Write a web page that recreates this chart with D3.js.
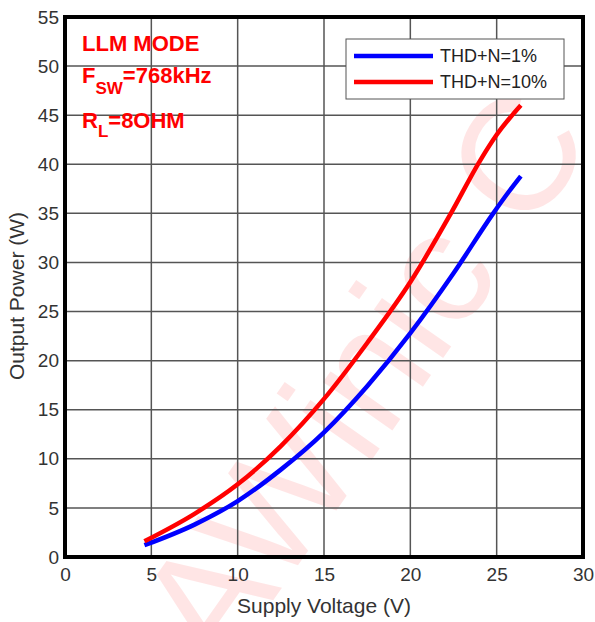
<!DOCTYPE html>
<html><head><meta charset="utf-8">
<script src="https://cdn.jsdelivr.net/npm/d3@7"></script>
<style>body{margin:0;background:#fff}svg{display:block;font-family:"Liberation Sans",Arial,sans-serif}</style>
</head><body>
<svg id="c" width="595" height="622"></svg>
<script>
const xTicks = [0,5,10,15,20,25,30];
const yTicks = [0,5,10,15,20,25,30,35,40,45,50,55];
const redV = [4.6, 7.5, 10, 12.5, 15, 17.5, 20, 22.35, 24.05, 25, 26.4];
const redP = [1.6, 4.4, 7.4, 11.3, 16.1, 21.8, 28.0, 35.0, 40.4, 43.0, 46.0];
const blueV = [4.6, 7.5, 10, 12.5, 15, 17.5, 20, 22.5, 24.8, 25.7, 26.4];
const blueP = [1.2, 3.3, 5.7, 8.9, 12.7, 17.4, 22.8, 28.9, 35.0, 37.2, 38.8];
const seriesNames = ["THD+N=1%", "THD+N=10%"];

const svg = d3.select("#c");
const x = d3.scaleLinear().domain([0,30]).range([65,583]);
const y = d3.scaleLinear().domain([0,55]).range([557,17]);

// watermark
svg.append("text").attr("transform","translate(595,141) rotate(-55)")
  .attr("text-anchor","end")
  .attr("font-size",160).attr("font-family","Liberation Sans, Arial, sans-serif")
  .attr("fill","rgba(255,0,0,0.10)").text("AWinic C");

// grid
svg.append("g").selectAll("line").data(xTicks.slice(1,-1)).join("line")
  .attr("x1",d=>x(d)).attr("x2",d=>x(d)).attr("y1",y(55)).attr("y2",y(0))
  .attr("stroke","#555").attr("stroke-width",1.5);
svg.append("g").selectAll("line").data(yTicks.slice(1,-1)).join("line")
  .attr("y1",d=>y(d)).attr("y2",d=>y(d)).attr("x1",x(0)).attr("x2",x(30))
  .attr("stroke","#555").attr("stroke-width",1.5);

// lines
const line = d3.line().x(d=>x(d[0])).y(d=>y(d[1])).curve(d3.curveMonotoneX);
svg.append("path").datum(blueV.map((v,i)=>[v,blueP[i]])).attr("d",line)
  .attr("fill","none").attr("stroke","#0000ff").attr("stroke-width",4.5);
svg.append("path").datum(redV.map((v,i)=>[v,redP[i]])).attr("d",line)
  .attr("fill","none").attr("stroke","#ff0000").attr("stroke-width",4.5);

// frame
svg.append("rect").attr("x",x(0)).attr("y",y(55)).attr("width",x(30)-x(0)).attr("height",y(0)-y(55))
  .attr("fill","none").attr("stroke","#000").attr("stroke-width",4);

// axes labels via d3 axes
const xAxis = svg.append("g").attr("transform",`translate(0,${y(0)})`)
  .call(d3.axisBottom(x).tickValues(xTicks).tickSize(0).tickPadding(11));
xAxis.select(".domain").remove();
xAxis.selectAll("text").attr("font-size",19).attr("fill","#333").attr("font-family","Liberation Sans, Arial, sans-serif");
const yAxis = svg.append("g").attr("transform",`translate(${x(0)},0)`)
  .call(d3.axisLeft(y).tickValues(yTicks).tickSize(0).tickPadding(6));
yAxis.select(".domain").remove();
yAxis.selectAll("text").attr("font-size",19).attr("fill","#333").attr("font-family","Liberation Sans, Arial, sans-serif");

svg.append("text").attr("x",(x(0)+x(30))/2).attr("y",613).attr("text-anchor","middle")
  .attr("font-size",21).attr("fill","#333").text("Supply Voltage (V)");
svg.append("text").attr("transform",`translate(24,${(y(0)+y(55))/2+9}) rotate(-90)`).attr("text-anchor","middle")
  .attr("font-size",21).attr("fill","#333").text("Output Power (W)");

// annotation
const ann = svg.append("g").attr("fill","#ff0000").attr("font-weight","bold").attr("font-size",22);
ann.append("text").attr("x",82).attr("y",51).text("LLM MODE");
const t2 = ann.append("text").attr("x",82).attr("y",83);
t2.append("tspan").text("F");
t2.append("tspan").attr("dy",11).attr("font-size",17).text("SW");
t2.append("tspan").attr("dy",-11).text("=768kHz");
const t3 = ann.append("text").attr("x",82).attr("y",128);
t3.append("tspan").text("R");
t3.append("tspan").attr("dy",9).attr("font-size",17).text("L");
t3.append("tspan").attr("dy",-9).text("=8OHM");

// legend
const lg = svg.append("g");
lg.append("rect").attr("x",346).attr("y",39).attr("width",218).attr("height",60)
  .attr("fill","#fff").attr("stroke","#555").attr("stroke-width",1);
const cols = ["#0000ff","#ff0000"];
seriesNames.forEach((n,i)=>{
  const yy = 56 + i*26;
  lg.append("line").attr("x1",354).attr("x2",433).attr("y1",yy).attr("y2",yy)
    .attr("stroke",cols[i]).attr("stroke-width",4.5);
  lg.append("text").attr("x",440).attr("y",yy+6).attr("font-size",18).attr("fill","#222").text(n);
});
</script>
</body></html>
